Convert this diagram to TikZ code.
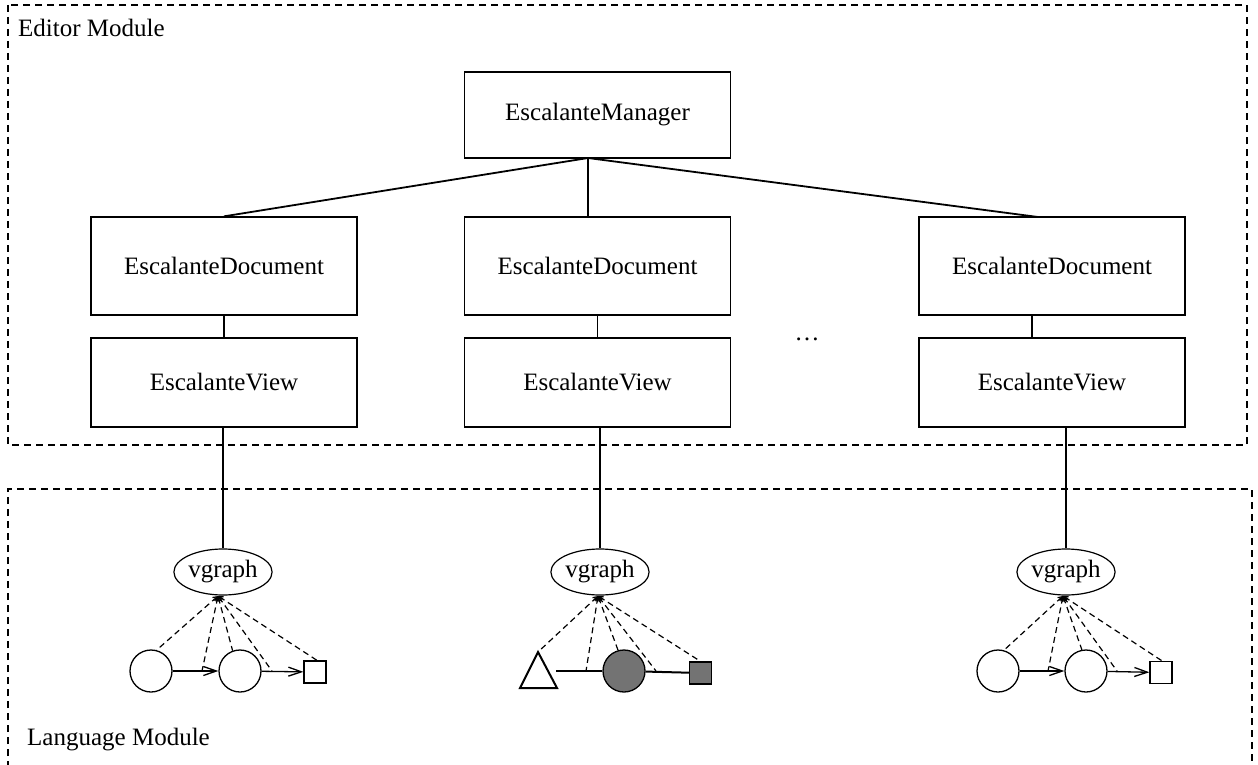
\documentclass[tikz,border=0pt]{standalone}
\usepackage{fontspec}
\setmainfont{Liberation Serif}
\usetikzlibrary{arrows.meta,calc,shapes.geometric}
\begin{document}
\begin{tikzpicture}[x=1pt,y=-1pt,
  txt/.style={font=\fontsize{25}{30}\selectfont, inner sep=0pt},
  box/.style={txt, draw, line width=1.3pt, minimum width=266pt},
  docbox/.style={box, minimum height=98pt},
  viewbox/.style={box, minimum height=89pt},
  conn/.style={line width=1.8pt},
  border/.style={dash pattern=on 7pt off 5pt, line width=1.2pt},
  fan/.style={dash pattern=on 6pt off 4pt, line width=1.2pt, {Straight Barb[length=4pt,width=5pt]}-},
  vg/.style={txt, draw, ellipse, line width=1.2pt, minimum width=98pt, minimum height=46pt},
  circ/.style={draw, circle, line width=1.3pt, minimum size=42pt, inner sep=0pt},
  sq/.style={draw, rectangle, line width=1.3pt, minimum size=22pt, inner sep=0pt},
  arr/.style={line width=1.3pt, -{Straight Barb[length=13pt,width=9pt]}},
  thick2/.style={line width=2pt}
]
\useasboundingbox (0,0) rectangle (1258,765);

% module borders
\draw[border] (8,5) rectangle (1247,445);
\draw[border] (8,780) -- (8,489) -- (1252,489) -- (1252,780);
\node[txt, anchor=base west] (em) at (18,37) {Editor Module};
\node[txt, anchor=base west] (lm) at (27,745) {Language Module};

% editor boxes
\node[box, minimum height=86pt] (mgr) at (597.5,115) {EscalanteManager};
\node[docbox] (ld) at (224,266) {EscalanteDocument};
\node[docbox] (md) at (597.5,266) {EscalanteDocument};
\node[docbox] (rd) at (1052,266) {EscalanteDocument};
\node[viewbox] (lv) at (224,382.5) {EscalanteView};
\node[viewbox] (mv) at (597.5,382.5) {EscalanteView};
\node[viewbox] (rv) at (1052,382.5) {EscalanteView};
\node[txt, anchor=base] (dots) at (807,340) {\dots};

\coordinate (mb) at (588,158);
\coordinate (rdt) at (1038,217);
\coordinate (rx) at (1032,0);
\draw[conn] (mb) -- (ld.north);
\draw[conn] (mb) -- (mb |- md.north);
\draw[conn] (mb) -- (rdt);
\draw[conn] (ld.south) -- (lv.north);
\draw[conn] (md.south) -- (mv.north);
\draw[conn] (rd.south -| rx) -- (rv.north -| rx);

% vgraph nodes
\node[vg] (lg) at (223,572) {vgraph};
\node[vg] (mg) at (600,572) {vgraph};
\node[vg] (rg) at (1066,572) {vgraph};
\draw[conn] (lv.south -| lg) -- (lg.north);
\draw[conn] (mv.south -| mg) -- (mg.north);
\draw[conn] (rv.south -| rg) -- (rg.north);

% left graph
\node[circ] (l1) at (151,671) {};
\node[circ] (l2) at (240,671) {};
\node[sq] (l3) at (315,672) {};
\draw[arr] (l1) -- (l2);
\draw[arr] (l2) -- (l3);
\coordinate (lc) at (218,596);
\coordinate (la) at (202,671);
\coordinate (lb) at (272,671);
\draw[fan] (lc) -- (l1.75);
\draw[fan] (lc) -- (la);
\draw[fan] (lc) -- (l2.110);
\draw[fan] (lc) -- (lb);
\draw[fan] (lc) -- ($(l3.north)+(2,0)$);

% middle graph
\draw[thick2, line join=miter] (520,688) -- (538,652) coordinate (mta) -- (557,688) -- cycle;
\coordinate (mtr) at (556,671);
\node[circ, fill=black!55] (m2) at (624,671) {};
\node[sq, fill=black!55] (m3) at (700.5,673) {};
\draw[thick2] (mtr) -- (m2);
\draw[thick2] (m2) -- (m3);
\coordinate (mc) at (598,596);
\coordinate (ma) at (586,671);
\coordinate (mbb) at (656,671);
\draw[fan] (mc) -- (mta);
\draw[fan] (mc) -- (ma);
\draw[fan] (mc) -- (m2.106);
\draw[fan] (mc) -- (mbb);
\draw[fan] (mc) -- (m3.north);

% right graph
\node[circ] (r1) at (998,671) {};
\node[circ] (r2) at (1086,671) {};
\node[sq] (r3) at (1161,672.5) {};
\draw[arr] (r1) -- (r2);
\draw[arr] (r2) -- (r3);
\coordinate (rc) at (1063,596);
\coordinate (ra) at (1048,671);
\coordinate (rb) at (1117,671);
\draw[fan] (rc) -- (r1.74);
\draw[fan] (rc) -- (ra);
\draw[fan] (rc) -- (r2.101);
\draw[fan] (rc) -- (rb);
\draw[fan] (rc) -- ($(r3.north)+(1,0)$);
\end{tikzpicture}
\end{document}
